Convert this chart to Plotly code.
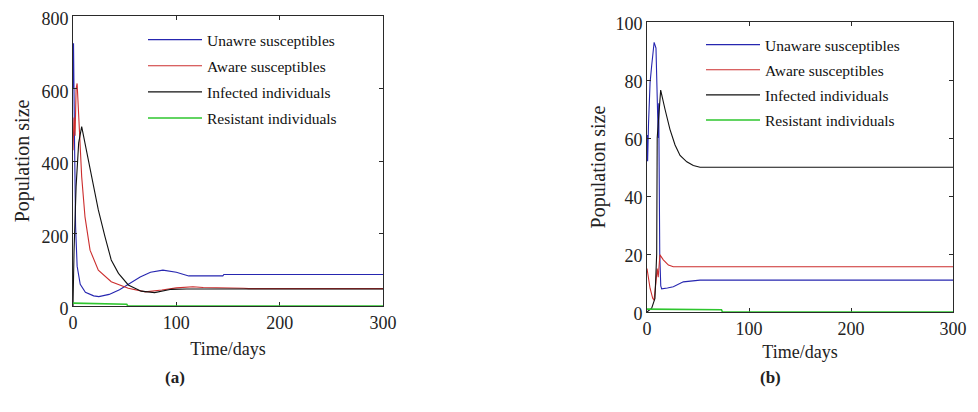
import plotly.graph_objects as go

# ---------------- Panel (a) data ----------------
a_unaware_t = [0, 0.5, 1.5, 2.5, 4, 7, 12, 20, 25, 35, 45, 55, 65, 75, 87, 100, 112, 145, 146, 300]
a_unaware_v = [600, 725, 450, 220, 110, 60, 38, 28, 26, 32, 45, 62, 80, 93, 99, 93, 83, 83, 87, 87]

a_aware_t = [0, 1, 2, 3, 4, 5, 8.4, 11.6, 16.5, 24.5, 37, 53.5, 70, 86, 100, 116, 126, 165, 170, 300]
a_aware_v = [430, 520, 470, 600, 614, 560, 357, 246, 154, 99, 67, 49, 39, 44, 50, 53, 51, 49, 48, 48]

a_infected_t = [0, 1, 3, 5.5, 8.4, 13, 18, 24.5, 31, 37, 44, 53.5, 66, 79, 95, 110, 300]
a_infected_v = [0, 150, 330, 450, 495, 430, 357, 265, 191, 127, 90, 58, 41, 37, 46, 47, 47]

a_resistant_t = [0, 52, 53, 300]
a_resistant_v = [8, 5, 0, 0]

# ---------------- Panel (b) data ----------------
b_unaware_t = [0, 0.3, 0.6, 1.5, 3, 4.6, 6, 7, 8.8, 10, 11, 11.5, 12, 12.2, 12.5, 13.5, 14.4, 20, 25.8, 35.6, 52, 300]
b_unaware_v = [52, 61, 52, 65, 79, 85, 90, 93, 91, 68, 60, 72, 30, 34, 20, 9, 8, 8.3, 8.7, 10.4, 11, 11]

b_aware_t = [0, 1, 3, 5.6, 6.9, 8.8, 10, 11, 12.7, 16, 21, 25.8, 300]
b_aware_v = [15, 13, 8.2, 4.7, 4.1, 10.4, 15, 12, 19.7, 18, 16.2, 15.6, 15.6]

b_infected_t = [0, 4.6, 7.8, 9.5, 10, 13.4, 17.6, 22.5, 27.5, 32.4, 39, 45.4, 52, 300]
b_infected_v = [0, 1.3, 4.7, 20, 60, 76.5, 70, 63, 57.6, 54, 51.8, 50.5, 49.9, 49.9]

b_resistant_t = [0, 73, 74, 300]
b_resistant_v = [1, 0.8, 0, 0]

a_names = ["Unawre susceptibles", "Aware susceptibles", "Infected individuals", "Resistant individuals"]
b_names = ["Unaware susceptibles", "Aware susceptibles", "Infected individuals", "Resistant individuals"]

x_ticks = [0, 100, 200, 300]
a_y_ticks = [0, 200, 400, 600, 800]
b_y_ticks = [0, 20, 40, 60, 80, 100]

colors = ["#2626b0", "#cc2e2e", "#111111", "#2ec62e"]

# the page body keeps an 8 px margin, so the figure is drawn 8 px in
OFF = 8
W, H = 978 - OFF, 412 - OFF
SERIF = "Liberation Serif"

fig = go.Figure()

a_series = [(a_unaware_t, a_unaware_v), (a_aware_t, a_aware_v),
            (a_infected_t, a_infected_v), (a_resistant_t, a_resistant_v)]
b_series = [(b_unaware_t, b_unaware_v), (b_aware_t, b_aware_v),
            (b_infected_t, b_infected_v), (b_resistant_t, b_resistant_v)]

for i, ((t, v), name) in enumerate(zip(a_series, a_names)):
    fig.add_trace(go.Scatter(x=t, y=v, mode="lines", name=name,
                             line=dict(color=colors[i], width=1.6 if i == 3 else 1.1),
                             xaxis="x", yaxis="y", legend="legend",
                             legendgroup="a%d" % i))
for i, ((t, v), name) in enumerate(zip(b_series, b_names)):
    fig.add_trace(go.Scatter(x=t, y=v, mode="lines", name=name,
                             line=dict(color=colors[i], width=1.6 if i == 3 else 1.1),
                             xaxis="x2", yaxis="y2", legend="legend2",
                             legendgroup="b%d" % i))

def px_x(p):
    return (p - OFF) / W

def px_y(p):
    return 1 - (p - OFF) / H

axis_common = dict(
    showline=True, linecolor="#2a2a2a", linewidth=1, mirror="allticks",
    ticks="inside", ticklen=4, tickcolor="#2a2a2a", showgrid=False, zeroline=False,
    automargin=False, ticklabeloverflow="allow",
    tickfont=dict(family=SERIF, size=18, color="#222"),
)

fig.update_layout(
    width=W, height=H,
    margin=dict(l=0, r=0, t=0, b=0),
    font=dict(family=SERIF, color="#222"),
    paper_bgcolor="white", plot_bgcolor="white",
    xaxis=dict(domain=[px_x(73), px_x(383)], range=[0, 300], tickvals=x_ticks,
               anchor="y", layer="below traces",
               title=dict(text="Time/days", font=dict(family=SERIF, size=18, color="#222"), standoff=10),
               **axis_common),
    yaxis=dict(domain=[px_y(306), px_y(16)], range=[0, 800], tickvals=a_y_ticks,
               anchor="x", ticklabelshift=3,
               title=dict(text="Population size", font=dict(family=SERIF, size=20, color="#222"), standoff=6),
               **axis_common),
    xaxis2=dict(domain=[px_x(647), px_x(953)], range=[0, 300], tickvals=x_ticks,
                anchor="y2", layer="below traces",
                title=dict(text="Time/days", font=dict(family=SERIF, size=18, color="#222"), standoff=7),
                **axis_common),
    yaxis2=dict(domain=[px_y(312), px_y(22)], range=[0, 100], tickvals=b_y_ticks,
                anchor="x2", ticklabelshift=2,
                title=dict(text="Population size", font=dict(family=SERIF, size=20, color="#222"), standoff=4),
                **axis_common),
    legend=dict(x=px_x(143), y=px_y(23), xanchor="left", yanchor="top",
                bgcolor="rgba(0,0,0,0)", borderwidth=0, traceorder="grouped",
                tracegroupgap=3, itemwidth=54,
                font=dict(family=SERIF, size=15.5, color="#111")),
    legend2=dict(x=px_x(701), y=px_y(28), xanchor="left", yanchor="top",
                 bgcolor="rgba(0,0,0,0)", borderwidth=0, traceorder="grouped",
                 tracegroupgap=2, itemwidth=54,
                 font=dict(family=SERIF, size=15.5, color="#111")),
    annotations=[
        dict(text="<b>(a)</b>", x=px_x(175), y=px_y(377), xref="paper", yref="paper",
             xanchor="center", yanchor="middle",
             showarrow=False, font=dict(family=SERIF, size=17, color="#222")),
        dict(text="<b>(b)</b>", x=px_x(770), y=px_y(377), xref="paper", yref="paper",
             xanchor="center", yanchor="middle",
             showarrow=False, font=dict(family=SERIF, size=17, color="#222")),
    ],
)

fig.write_html("out.html")
